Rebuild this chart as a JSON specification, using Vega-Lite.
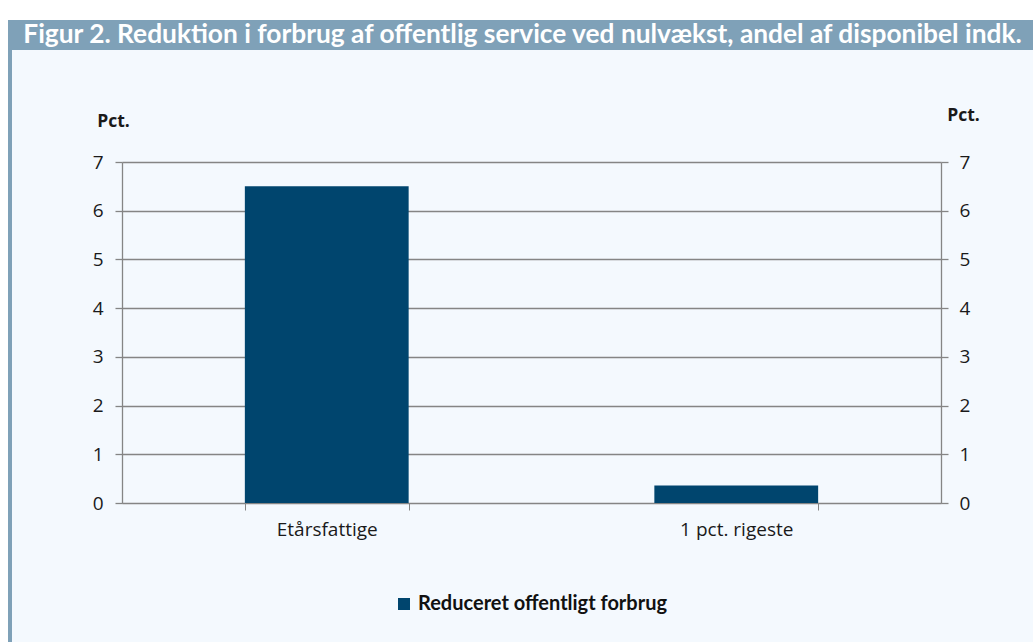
{
  "$schema": "https://vega.github.io/schema/vega-lite/v6.json",
  "background": "#f4f9fe",
  "padding": 0,
  "autosize": {"type": "pad"},
  "config": {
    "view": {"stroke": null},
    "font": "Open Sans"
  },
  "spacing": 0,
  "bounds": "flush",
  "resolve": {"scale": {"color": "independent"}, "legend": {"color": "independent"}},
  "vconcat": [
    {
      "width": 1033, "height": 20,
      "view": {"fill": "#ffffff", "stroke": null},
      "data": {"values": []},
      "mark": "rect",
      "encoding": {}
    },
    {
      "spacing": 0,
      "bounds": "flush",
      "resolve": {"scale": {"color": "independent"}, "legend": {"color": "independent"}},
      "hconcat": [
        {
          "width": 8, "height": 622,
          "view": {"fill": "#ffffff", "stroke": null},
          "data": {"values": []},
          "mark": "rect",
          "encoding": {}
        },
        {
          "width": 4, "height": 622,
          "view": {"fill": "#7fa1b8", "stroke": null},
          "data": {"values": []},
          "mark": "rect",
          "encoding": {}
        },
        {
          "spacing": 112,
          "bounds": "flush",
          "resolve": {"scale": {"color": "independent"}, "legend": {"color": "independent"}},
          "vconcat": [
            {
              "width": 1021, "height": 30,
              "view": {"fill": "#7fa1b8", "stroke": null},
              "data": {"values": [{"t": "Figur 2. Reduktion i forbrug af offentlig service ved nulvækst, andel af disponibel indk."}]},
              "mark": {
                "type": "text",
                "align": "center",
                "baseline": "middle",
                "color": "#ffffff",
                "font": "Lato",
                "fontWeight": "bold",
                "fontSize": 26.3
              },
              "encoding": {"text": {"field": "t", "type": "nominal"}}
            },
            {
              "spacing": 109,
              "bounds": "flush",
              "resolve": {"scale": {"color": "independent"}, "legend": {"color": "independent"}},
              "hconcat": [
                {
                  "width": 1, "height": 341,
                  "data": {"values": []},
                  "mark": "rect",
                  "encoding": {}
                },
                {
                  "width": 819,
                  "height": 341,
                  "data": {
                    "values": [
                      {"group": "Etårsfattige", "value": 6.5, "series": "Reduceret offentligt forbrug"},
                      {"group": "1 pct. rigeste", "value": 0.36, "series": "Reduceret offentligt forbrug"}
                    ]
                  },
                  "resolve": {"axis": {"y": "independent"}},
                  "layer": [
                    {
                      "mark": {"type": "bar"},
                      "encoding": {
                        "x": {
                          "field": "group", "type": "nominal", "sort": null,
                          "scale": {"paddingInner": 0.6, "paddingOuter": 0.3},
                          "axis": {
                            "title": null,
                            "labelAngle": 0,
                            "tickBand": "extent",
                            "tickSize": 7,
                            "tickColor": "#858585",
                            "domainColor": "#858585",
                            "labelFont": "Open Sans",
                            "labelFontSize": 19,
                            "labelColor": "#1a1a1a",
                            "labelPadding": 10
                          }
                        },
                        "y": {
                          "field": "value", "type": "quantitative",
                          "scale": {"domain": [0, 7], "nice": false},
                          "axis": {
                            "orient": "left",
                            "values": [0, 1, 2, 3, 4, 5, 6, 7],
                            "grid": true,
                            "gridColor": "#858585",
                            "gridOpacity": 1,
                            "gridWidth": 1.3,
                            "tickSize": 7,
                            "tickWidth": 1.3,
                            "tickColor": "#858585",
                            "domainColor": "#858585",
                            "domainWidth": 1.3,
                            "labelFont": "Open Sans",
                            "labelFontSize": 19,
                            "labelColor": "#1a1a1a",
                            "labelPadding": 12,
                            "title": "Pct.",
                            "titleAngle": 0,
                            "titleX": -9,
                            "titleY": -36,
                            "titleAlign": "center",
                            "titleBaseline": "alphabetic",
                            "titleFont": "Open Sans",
                            "titleFontWeight": "bold",
                            "titleFontSize": 17.5,
                            "titleColor": "#1a1a1a"
                          }
                        },
                        "color": {
                          "field": "series", "type": "nominal",
                          "scale": {"range": ["#00456e"]},
                          "legend": {
                            "title": null,
                            "orient": "none",
                            "legendX": 272,
                            "legendY": 432,
                            "padding": 0,
                            "direction": "horizontal",
                            "symbolType": "square",
                            "symbolSize": 144,
                            "symbolStrokeWidth": 0,
                            "symbolOpacity": 1,
                            "labelFont": "Lato",
                            "labelFontWeight": "bold",
                            "labelFontSize": 20,
                            "labelColor": "#111111",
                            "labelOffset": 4,
                            "labelLimit": 0
                          }
                        }
                      }
                    },
                    {
                      "mark": {"type": "bar", "opacity": 0},
                      "encoding": {
                        "x": {"field": "group", "type": "nominal", "sort": null},
                        "y": {
                          "field": "value", "type": "quantitative",
                          "axis": {
                            "orient": "right",
                            "values": [0, 1, 2, 3, 4, 5, 6, 7],
                            "grid": false,
                            "tickSize": 7,
                            "tickWidth": 1.3,
                            "tickColor": "#858585",
                            "domainColor": "#858585",
                            "domainWidth": 1.3,
                            "labelFont": "Open Sans",
                            "labelFontSize": 19,
                            "labelColor": "#1a1a1a",
                            "labelPadding": 11,
                            "title": "Pct.",
                            "titleAngle": 0,
                            "titleX": 22,
                            "titleY": -42,
                            "titleAlign": "center",
                            "titleBaseline": "alphabetic",
                            "titleFont": "Open Sans",
                            "titleFontWeight": "bold",
                            "titleFontSize": 17.5,
                            "titleColor": "#1a1a1a"
                          }
                        }
                      }
                    }
                  ]
                }
              ]
            }
          ]
        }
      ]
    }
  ]
}
